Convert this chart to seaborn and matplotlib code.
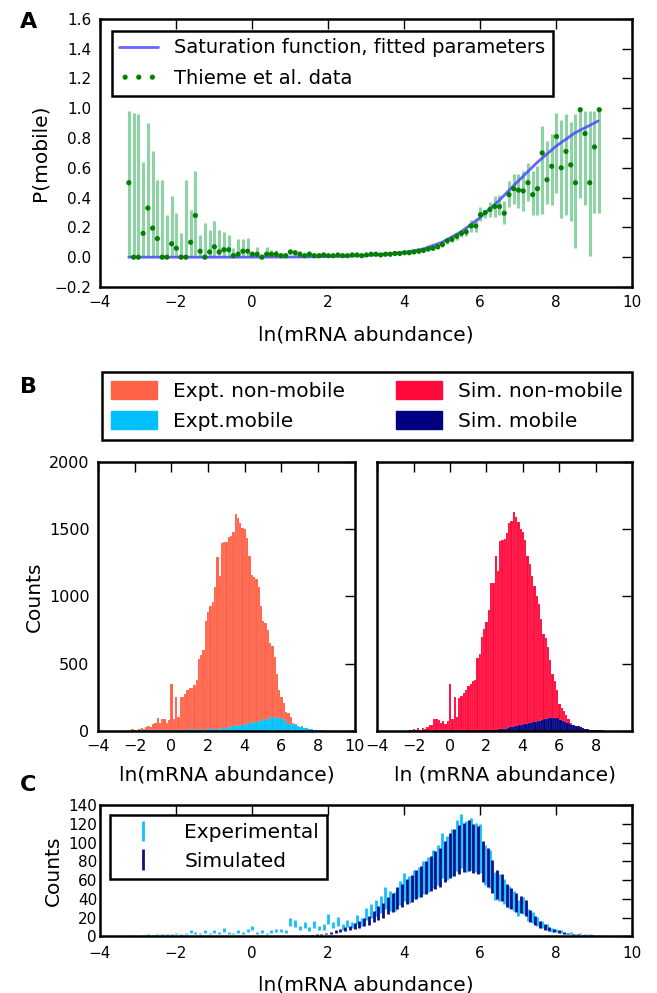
import numpy as np
import pandas as pd
import seaborn as sns
import matplotlib.pyplot as plt
from matplotlib.patches import Patch

# bins shared by every panel (100 bins, width 0.125)
edges = np.linspace(-3.3, 9.2, 101)
centers = (edges[:-1] + edges[1:]) / 2
sim_shift = 0.0625

# Panel A: fraction mobile per bin, with lower / upper bounds
p_mobile = [0.50, 0.00, 0.00, 0.16, 0.33, 0.195, 0.125, 0.00, 0.00, 0.09,
            0.06, 0.00, 0.00, 0.10, 0.28, 0.04, 0.00, 0.035, 0.07, 0.035,
            0.05, 0.05, 0.01, 0.02, 0.04, 0.04, 0.02, 0.02, 0.00, 0.02,
            0.02, 0.02, 0.01, 0.01, 0.035, 0.03, 0.02, 0.01, 0.02, 0.01,
            0.01, 0.015, 0.01, 0.01, 0.015, 0.01, 0.01, 0.015, 0.015, 0.01,
            0.015, 0.02, 0.02, 0.015, 0.02, 0.02, 0.025, 0.025, 0.03, 0.03,
            0.035, 0.04, 0.045, 0.055, 0.06, 0.07, 0.085, 0.11, 0.12, 0.14,
            0.16, 0.17, 0.21, 0.21, 0.285, 0.30, 0.32, 0.34, 0.34, 0.295,
            0.42, 0.46, 0.45, 0.445, 0.50, 0.42, 0.46, 0.70, 0.52, 0.61,
            0.81, 0.60, 0.71, 0.62, 0.50, 0.99, 0.83, 0.50, 0.74, 0.99]
p_lo = [0.00, 0.00, 0.00, 0.00, 0.00, 0.00, 0.00, 0.00, 0.00, 0.00,
        0.00, 0.00, 0.00, 0.00, 0.00, 0.00, 0.00, 0.00, 0.00, 0.00,
        0.00, 0.00, 0.00, 0.00, 0.00, 0.00, 0.00, 0.00, 0.00, 0.00,
        0.00, 0.00, 0.00, 0.00, 0.02, 0.01, 0.00, 0.00, 0.00, 0.00,
        0.00, 0.00, 0.00, 0.00, 0.00, 0.00, 0.00, 0.00, 0.00, 0.00,
        0.005, 0.01, 0.01, 0.005, 0.01, 0.01, 0.015, 0.015, 0.02, 0.02,
        0.025, 0.03, 0.035, 0.04, 0.045, 0.055, 0.07, 0.09, 0.10, 0.115,
        0.135, 0.14, 0.17, 0.17, 0.24, 0.26, 0.27, 0.27, 0.28, 0.22,
        0.34, 0.36, 0.33, 0.31, 0.38, 0.28, 0.28, 0.29, 0.36, 0.35,
        0.43, 0.26, 0.28, 0.24, 0.06, 0.40, 0.35, 0.01, 0.30, 0.30]
p_hi = [0.98, 0.97, 0.96, 0.64, 0.90, 0.71, 0.52, 0.52, 0.28, 0.41,
        0.30, 0.16, 0.52, 0.32, 0.58, 0.15, 0.23, 0.18, 0.24, 0.18,
        0.17, 0.15, 0.06, 0.12, 0.12, 0.13, 0.04, 0.07, 0.02, 0.07,
        0.05, 0.05, 0.03, 0.03, 0.055, 0.05, 0.04, 0.03, 0.04, 0.03,
        0.025, 0.03, 0.02, 0.02, 0.03, 0.02, 0.02, 0.025, 0.025, 0.02,
        0.025, 0.03, 0.03, 0.025, 0.03, 0.03, 0.035, 0.035, 0.04, 0.04,
        0.045, 0.05, 0.055, 0.07, 0.075, 0.085, 0.10, 0.13, 0.14, 0.165,
        0.185, 0.20, 0.25, 0.25, 0.34, 0.32, 0.37, 0.41, 0.42, 0.38,
        0.51, 0.56, 0.56, 0.58, 0.63, 0.58, 0.61, 0.88, 0.78, 0.83,
        0.97, 0.92, 0.96, 0.91, 0.96, 0.99, 0.98, 0.98, 0.98, 0.99]

# fitted saturation curve
curve_x = [-3.24, -2.0, -1.0, 0.0, 1.0, 1.5, 2.0, 2.5, 3.0, 3.5, 4.0, 4.5, 5.0,
           5.5, 6.0, 6.5, 7.0, 7.5, 8.0, 8.5, 9.0, 9.11]
curve_y = [0.0, 0.0, 0.0, 0.0005, 0.001, 0.002, 0.004, 0.007, 0.012, 0.02,
           0.032, 0.055, 0.10, 0.17, 0.265, 0.38, 0.51, 0.635, 0.745, 0.835,
           0.90, 0.915]

# Panel B: counts per bin
expt_nonmobile = [0, 0, 0, 0, 0, 0, 0, 0, 5, 12,
                  10, 8, 15, 20, 12, 30, 35, 25, 50, 55,
                  95, 60, 90, 85, 55, 80, 345, 90, 255, 100,
                  255, 250, 275, 300, 320, 315, 340, 380, 535, 560,
                  600, 820, 880, 930, 960, 1070, 1290, 1150, 1395, 1400,
                  1405, 1440, 1450, 1480, 1615, 1580, 1545, 1510, 1500, 1430,
                  1300, 1160, 1140, 1130, 1070, 930, 820, 800, 750, 650,
                  630, 550, 420, 300, 250, 205, 140, 130, 106, 60,
                  50, 37, 30, 25, 15, 14, 6, 5, 4, 2,
                  0, 0, 0, 0, 0, 0, 0, 0, 0, 0]
sim_nonmobile = [0, 0, 0, 0, 0, 0, 0, 0, 8, 5,
                 12, 6, 18, 10, 22, 15, 25, 40, 45, 90,
                 85, 80, 55, 75, 50, 70, 350, 90, 250, 100,
                 245, 260, 280, 300, 330, 350, 370, 380, 545, 570,
                 700, 760, 810, 900, 1100, 1100, 1300, 1190, 1410, 1415,
                 1425, 1470, 1545, 1560, 1625, 1590, 1550, 1500, 1480, 1420,
                 1300, 1240, 1150, 1080, 1000, 940, 830, 720, 690, 620,
                 530, 420, 370, 300, 200, 170, 150, 120, 90, 60,
                 45, 30, 25, 20, 15, 10, 8, 5, 3, 2,
                 0, 0, 0, 0, 0, 0, 0, 0, 0, 0]
# mobile counts (also shown in panel C)
expt_mobile = [1, 0, 0, 1, 2, 1, 2, 2, 2, 2,
               3, 2, 3, 5, 4, 3, 5, 3, 5, 4,
               7, 4, 3, 5, 4, 6, 9, 4, 5, 3,
               5, 6, 6, 5, 15, 14, 9, 12, 8, 13,
               9, 10, 19, 12, 16, 10, 14, 12, 18, 15,
               24, 27, 30, 34, 41, 38, 37, 46, 53, 50,
               55, 58, 63, 66, 72, 76, 86, 84, 90, 97,
               102, 96, 99, 95, 94, 76, 72, 54, 52, 48,
               42, 38, 30, 33, 23, 20, 16, 13, 10, 7,
               6, 5, 3, 4, 2, 3, 2, 2, 1, 1]
sim_mobile = [0, 0, 0, 0, 0, 0, 0, 0, 0, 0,
              0, 0, 0, 0, 0, 0, 0, 0, 0, 0,
              0, 0, 0, 0, 0, 0, 0, 0, 0, 0,
              0, 0, 0, 0, 0, 0, 1, 1, 1, 2,
              2, 3, 4, 5, 6, 8, 9, 11, 13, 15,
              17, 21, 25, 28, 33, 36, 41, 44, 48, 51,
              55, 59, 63, 67, 71, 74, 80, 86, 90, 93,
              95, 97, 94, 92, 80, 74, 64, 55, 52, 44,
              40, 36, 34, 30, 22, 17, 13, 10, 8, 6,
              5, 4, 3, 2, 2, 1, 1, 1, 0, 0]

c_expt_non = '#ff6347'
c_expt_mob = '#00bfff'
c_sim_non = '#ff0a3c'
c_sim_mob = '#000080'

sns.set_style('white')
plt.rcParams['font.family'] = ['DejaVu Sans']
plt.rcParams['text.color'] = 'black'
plt.rcParams['axes.labelcolor'] = 'black'
plt.rcParams['axes.linewidth'] = 1.8
plt.rcParams['axes.edgecolor'] = 'black'
plt.rcParams['legend.fancybox'] = False
plt.rcParams['legend.edgecolor'] = 'black'
plt.rcParams['legend.framealpha'] = 1


def style_ax(ax, fs=11):
    ax.tick_params(direction='in', length=7, width=1, top=True, right=True,
                   labelsize=fs, colors='black', pad=6)
    ax.tick_params(axis='x', pad=6)
    for s in ax.spines.values():
        s.set_visible(True)
        s.set_color('black')


def hist(ax, counts, shift, color):
    df = pd.DataFrame({'x': centers + shift, 'w': counts})
    sns.histplot(data=df, x='x', weights='w', binwidth=0.125,
                 binrange=(-3.3 + shift, 9.2 + shift), color=color,
                 alpha=1, linewidth=0.3, edgecolor=(1, 1, 1, 0.25), ax=ax)


fig = plt.figure(figsize=(6.57, 9.93), dpi=100)
axA = fig.add_axes([0.152, 0.711, 0.810, 0.270])
axB1 = fig.add_axes([0.149, 0.264, 0.391, 0.271])
axB2 = fig.add_axes([0.574, 0.264, 0.388, 0.271])
axC = fig.add_axes([0.152, 0.057, 0.810, 0.132])

# ---------------- A
pm = np.array(p_mobile)
axA.errorbar(centers, pm, yerr=[pm - np.array(p_lo), np.array(p_hi) - pm],
             fmt='none', ecolor=(0.25, 0.72, 0.4, 0.6), elinewidth=2.2, zorder=1)
sns.lineplot(x=curve_x, y=curve_y, color='#4a4aff', alpha=0.85, lw=2,
             label='Saturation function, fitted parameters', ax=axA, zorder=2)
sns.scatterplot(x=centers, y=pm, color='green', s=14, edgecolor='none',
                label='Thieme et al. data', ax=axA, zorder=3)
axA.set_xlim(-4, 10)
axA.set_ylim(-0.2, 1.6)
axA.set_xticks(range(-4, 11, 2))
axA.set_yticks(np.arange(-0.2, 1.61, 0.2))
axA.set_xlabel('ln(mRNA abundance)', fontsize=14.5, labelpad=11)
axA.set_ylabel('P(mobile)', fontsize=14.5)
style_ax(axA, 11)
legA = axA.legend(loc='upper left', fontsize=14, scatterpoints=3,
                  scatteryoffsets=[0.5], borderaxespad=0.6, handlelength=2,
                  labelspacing=0.6)
legA.get_frame().set_linewidth(1.8)

# ---------------- B
hist(axB1, expt_nonmobile, 0, c_expt_non)
hist(axB1, expt_mobile, 0, c_expt_mob)
hist(axB2, sim_nonmobile, 0, c_sim_non)
hist(axB2, sim_mobile, sim_shift, c_sim_mob)
for ax in (axB1, axB2):
    ax.set_xlim(-4, 10)
    ax.set_ylim(0, 2000)
    ax.set_yticks(range(0, 2001, 500))
    style_ax(ax, 11.5)
axB1.set_xticks(range(-4, 11, 2))
axB2.set_xticks(range(-4, 9, 2))
axB1.set_ylabel('Counts', fontsize=14.5)
axB2.set_ylabel('')
axB2.set_yticklabels([])
axB1.set_xlabel('ln(mRNA abundance)', fontsize=14.5, labelpad=8)
axB2.set_xlabel('ln (mRNA abundance)', fontsize=14.5, labelpad=8)

handles = [Patch(color=c_expt_non, label='Expt. non-mobile'),
           Patch(color=c_expt_mob, label='Expt.mobile'),
           Patch(color=c_sim_non, label='Sim. non-mobile'),
           Patch(color=c_sim_mob, label='Sim. mobile')]
legB = fig.legend(handles=handles, ncol=2, loc='lower left', mode='expand',
                  bbox_to_anchor=(102 / 657, 1 - 440 / 993, 530 / 657, 70 / 993),
                  fontsize=14.5, handlelength=2.3, handleheight=1.0,
                  borderaxespad=0, handletextpad=0.8, labelspacing=0.5,
                  borderpad=0.45, columnspacing=1)
legB.get_frame().set_linewidth(1.8)

# ---------------- C  (bars span +/-28 % of the count)
em = np.array(expt_mobile, dtype=float)
sm = np.array(sim_mobile, dtype=float)
axC.errorbar(centers, em, yerr=0.28 * em, fmt='none', ecolor='#12c0ff',
             elinewidth=2, label='Experimental')
axC.errorbar(centers + sim_shift, sm, yerr=0.28 * sm, fmt='none',
             ecolor='#10108a', elinewidth=2, label='Simulated')
axC.set_xlim(-4, 10)
axC.set_ylim(0, 140)
axC.set_xticks(range(-4, 11, 2))
axC.set_yticks(range(0, 141, 20))
axC.set_xlabel('ln(mRNA abundance)', fontsize=14.5, labelpad=10)
axC.set_ylabel('Counts', fontsize=14.5)
style_ax(axC, 11)
axC.tick_params(axis='y', pad=2)
axC.tick_params(axis='x', pad=7)
legC = axC.legend(loc='upper left', fontsize=14.5, borderaxespad=0.5,
                  handlelength=2.5, labelspacing=0.45)
legC.get_frame().set_linewidth(1.8)

for lab, y in [('A', 0.978), ('B', 0.610), ('C', 0.209)]:
    fig.text(0.03, y, lab, fontsize=16, fontweight='bold', va='center')

fig.savefig('out.png', dpi=100)
